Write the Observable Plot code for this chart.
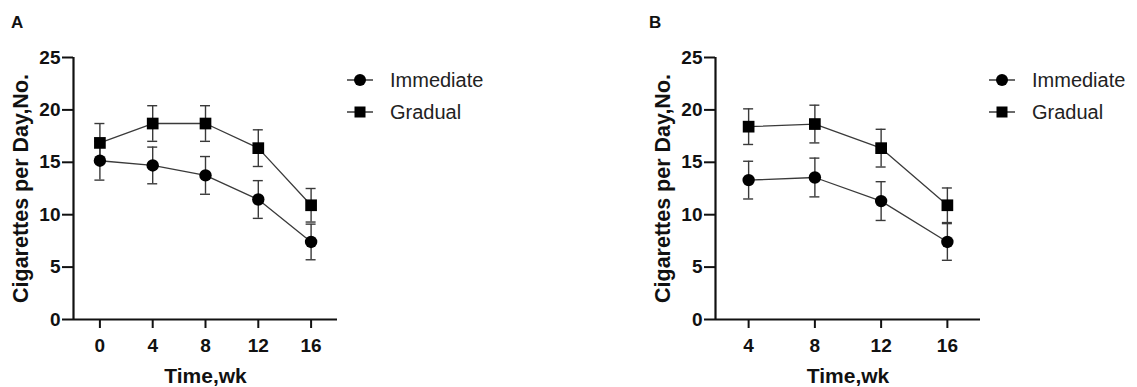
<!DOCTYPE html>
<html>
<head>
<meta charset="utf-8">
<script src="https://cdn.jsdelivr.net/npm/d3@7"></script>
<script src="https://cdn.jsdelivr.net/npm/@observablehq/plot@0.6"></script>
<style>
  html, body { margin: 0; padding: 0; background: #fff; }
  #root { position: relative; width: 1137px; height: 387px; overflow: hidden; font-family: "Liberation Sans", Arial, sans-serif; }
  .panel { position: absolute; top: 0; }
  .tag { position: absolute; font-weight: bold; font-size: 17px; color: #111; }
  .legend { position: absolute; font-size: 20px; color: #222; }
  .legend div { display: flex; align-items: center; height: 32px; }
  .legend svg { margin-right: 16px; }
</style>
</head>
<body>
<div id="root"></div>
<script>
// ---- data ----
const seriesNames = ["Immediate", "Gradual"];
const weeksA = [0, 4, 8, 12, 16];
const immediateA = [15.15, 14.7, 13.75, 11.45, 7.4];
const immediateAErr = [1.85, 1.75, 1.8, 1.8, 1.7];
const gradualA = [16.85, 18.7, 18.7, 16.35, 10.9];
const gradualAErr = [1.85, 1.7, 1.7, 1.75, 1.6];

const weeksB = [4, 8, 12, 16];
const immediateB = [13.3, 13.55, 11.3, 7.4];
const immediateBErr = [1.8, 1.85, 1.85, 1.75];
const gradualB = [18.4, 18.65, 16.35, 10.9];
const gradualBErr = [1.7, 1.8, 1.8, 1.65];

const yTicks = [0, 5, 10, 15, 20, 25];
const xTicksA = [0, 4, 8, 12, 16];
const xTicksB = [4, 8, 12, 16];
const yLabel = "Cigarettes per Day,No.";
const xLabel = "Time,wk";

function rows(weeks, imm, immErr, grad, gradErr) {
  const out = [];
  weeks.forEach((w, i) => {
    out.push({week: w, series: seriesNames[0], value: imm[i], err: immErr[i]});
    out.push({week: w, series: seriesNames[1], value: grad[i], err: gradErr[i]});
  });
  return out;
}

function panel(data, xDomain, xTicks, opts) {
  const lineColor = "#3a3a3a";
  return Plot.plot({
    width: opts.width,
    height: 387,
    marginLeft: opts.marginLeft,
    marginRight: opts.marginRight,
    marginTop: 57,
    marginBottom: 68,
    style: {fontFamily: "'Liberation Sans', Arial, sans-serif", fontSize: "19px", fontWeight: "bold", color: "#111", background: "#fff"},
    x: {domain: xDomain},
    y: {domain: [0, 25]},
    symbol: {domain: seriesNames, range: ["circle", "square"]},
    marks: [
      Plot.axisY({ticks: yTicks, tickSize: 11, tickPadding: 2, strokeWidth: 2, stroke: "#111", label: null, fontSize: 19}),
      Plot.axisX({ticks: xTicks, tickSize: 9, tickPadding: 10, strokeWidth: 2, stroke: "#111", label: null, fontSize: 19}),
      Plot.text([yLabel], {text: d => d, frameAnchor: "left", textAnchor: "middle", rotate: -90, dx: -52, fontSize: 21.5, fontWeight: "bold", fill: "#111"}),
      Plot.text([xLabel], {text: d => d, frameAnchor: "bottom", textAnchor: "middle", dy: 63, fontSize: 21, fontWeight: "bold", fill: "#111"}),
      Plot.ruleX([xDomain[0]], {stroke: "#111", strokeWidth: 2.2}),
      Plot.ruleY([0], {stroke: "#111", strokeWidth: 2.2}),
      Plot.ruleX(data, {x: "week", y1: d => d.value - d.err, y2: d => d.value + d.err, stroke: lineColor, strokeWidth: 1.4}),
      Plot.ruleY(data, {x1: "week", x2: "week", y: d => d.value + d.err, insetLeft: -5, insetRight: -5, stroke: lineColor, strokeWidth: 1.4}),
      Plot.ruleY(data, {x1: "week", x2: "week", y: d => d.value - d.err, insetLeft: -5, insetRight: -5, stroke: lineColor, strokeWidth: 1.4}),
      Plot.line(data, {x: "week", y: "value", z: "series", stroke: lineColor, strokeWidth: 1.3}),
      Plot.dot(data.filter(d => d.series === seriesNames[0]), {x: "week", y: "value", symbol: "series", r: 6.2, fill: "#000", stroke: "none"}),
      Plot.dot(data.filter(d => d.series === seriesNames[1]), {x: "week", y: "value", symbol: "series", r: 6.6, fill: "#000", stroke: "none"})
    ]
  });
}

function legendBox(left, top) {
  const div = document.createElement("div");
  div.className = "legend";
  div.style.left = left + "px";
  div.style.top = top + "px";
  seriesNames.forEach((name, i) => {
    const row = document.createElement("div");
    const shape = i === 0
      ? '<circle cx="14" cy="8" r="6" fill="#000"/>'
      : '<rect x="8.5" y="2.5" width="11" height="11" fill="#000"/>';
    row.innerHTML = `<svg width="28" height="16"><line x1="1" x2="27" y1="8" y2="8" stroke="#3a3a3a" stroke-width="1.5"/>${shape}</svg><span>${name}</span>`;
    div.appendChild(row);
  });
  return div;
}

const root = document.getElementById("root");

const pa = document.createElement("div");
pa.className = "panel"; pa.style.left = "0px";
pa.appendChild(panel(rows(weeksA, immediateA, immediateAErr, gradualA, gradualAErr), [-2, 18], xTicksA, {width: 350, marginLeft: 73, marginRight: 13}));
root.appendChild(pa);

const pb = document.createElement("div");
pb.className = "panel"; pb.style.left = "600px";
pb.appendChild(panel(rows(weeksB, immediateB, immediateBErr, gradualB, gradualBErr), [2, 18], xTicksB, {width: 400, marginLeft: 115, marginRight: 20}));
root.appendChild(pb);

const tA = document.createElement("div"); tA.className = "tag"; tA.textContent = "A"; tA.style.left = "11px"; tA.style.top = "13px"; root.appendChild(tA);
const tB = document.createElement("div"); tB.className = "tag"; tB.textContent = "B"; tB.style.left = "649px"; tB.style.top = "13px"; root.appendChild(tB);

root.appendChild(legendBox(346, 64));
root.appendChild(legendBox(988, 64));
</script>
</body>
</html>
